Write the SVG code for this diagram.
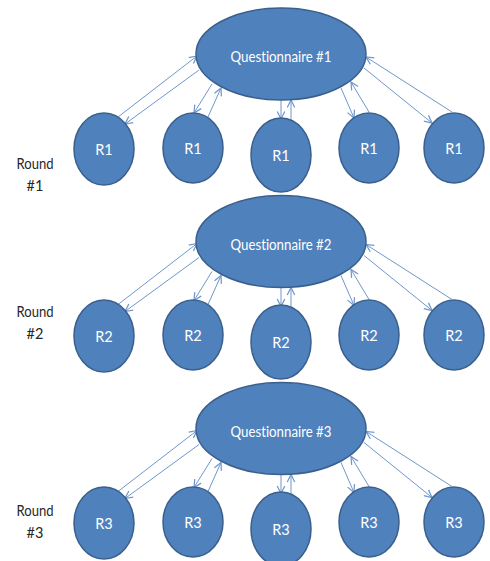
<svg xmlns="http://www.w3.org/2000/svg" width="490" height="561" viewBox="0 0 490 561">
<defs>
<marker id="ah" markerUnits="userSpaceOnUse" markerWidth="10" markerHeight="10" viewBox="0 0 8 8" refX="7" refY="4" orient="auto">
<path d="M1,1 L7,4 L1,7" fill="none" stroke="#6f97cc" stroke-width="1"/>
</marker>
</defs>
<style>
.n{fill:#4f81bd;stroke:#3a5f8c;stroke-width:1.5}
.t{fill:#ffffff;font-family:Lato,"Liberation Sans",sans-serif;font-size:14.5px;text-anchor:middle;font-variant-ligatures:none}
.q{font-size:14.5px}
.l{fill:#262626;font-family:Lato,"Liberation Sans",sans-serif;font-size:14.5px;text-anchor:middle}
.c line{stroke:#6f97cc;stroke-width:1;marker-end:url(#ah)}
</style>
<rect width="490" height="561" fill="#ffffff"/>
<g id="connectors" class="c">
<g id="row1-connectors">
<line x1="118" y1="117" x2="197" y2="56"/>
<line x1="199" y1="70" x2="125" y2="124"/>
<line x1="212" y1="84" x2="194" y2="113"/>
<line x1="208" y1="117" x2="221" y2="88"/>
<line x1="281" y1="100" x2="281" y2="119"/>
<line x1="291" y1="120" x2="291" y2="100"/>
<line x1="341" y1="88" x2="354" y2="118"/>
<line x1="369" y1="112" x2="351" y2="82"/>
<line x1="452" y1="112" x2="366" y2="57"/>
<line x1="364" y1="68" x2="432" y2="123"/>
</g>
<g id="row2-connectors" transform="translate(0,187.5)">
<line x1="118" y1="117" x2="197" y2="56"/>
<line x1="199" y1="70" x2="125" y2="124"/>
<line x1="212" y1="84" x2="194" y2="113"/>
<line x1="208" y1="117" x2="221" y2="88"/>
<line x1="281" y1="100" x2="281" y2="119"/>
<line x1="291" y1="120" x2="291" y2="100"/>
<line x1="341" y1="88" x2="354" y2="118"/>
<line x1="369" y1="112" x2="351" y2="82"/>
<line x1="452" y1="112" x2="366" y2="57"/>
<line x1="364" y1="68" x2="432" y2="123"/>
</g>
<g id="row3-connectors" transform="translate(0,374.5)">
<line x1="118" y1="117" x2="197" y2="56"/>
<line x1="199" y1="70" x2="125" y2="124"/>
<line x1="212" y1="84" x2="194" y2="113"/>
<line x1="208" y1="117" x2="221" y2="88"/>
<line x1="281" y1="100" x2="281" y2="119"/>
<line x1="291" y1="120" x2="291" y2="100"/>
<line x1="341" y1="88" x2="354" y2="118"/>
<line x1="369" y1="112" x2="351" y2="82"/>
<line x1="452" y1="112" x2="366" y2="57"/>
<line x1="364" y1="68" x2="432" y2="123"/>
</g>
</g>

<g id="q1"><ellipse class="n" cx="281" cy="54" rx="85" ry="46"/><text class="t q" x="281" y="62" textLength="101" lengthAdjust="spacingAndGlyphs">Questionnaire #1</text></g>
<g id="r1a"><ellipse class="n" cx="104" cy="149" rx="30" ry="36"/><text class="t" x="104" y="155">R1</text></g>
<g id="r1b"><ellipse class="n" cx="193" cy="148" rx="30" ry="35"/><text class="t" x="193" y="154">R1</text></g>
<g id="r1c"><ellipse class="n" cx="281" cy="155" rx="30" ry="37"/><text class="t" x="281" y="161">R1</text></g>
<g id="r1d"><ellipse class="n" cx="369" cy="148" rx="30" ry="35"/><text class="t" x="369" y="154">R1</text></g>
<g id="r1e"><ellipse class="n" cx="454" cy="148" rx="30" ry="35"/><text class="t" x="454" y="154">R1</text></g>

<g id="q2"><ellipse class="n" cx="281" cy="241.5" rx="85" ry="46"/><text class="t q" x="281" y="249.5" textLength="101" lengthAdjust="spacingAndGlyphs">Questionnaire #2</text></g>
<g id="r2a"><ellipse class="n" cx="104" cy="336" rx="30" ry="36"/><text class="t" x="104" y="342">R2</text></g>
<g id="r2b"><ellipse class="n" cx="193" cy="335" rx="30" ry="35"/><text class="t" x="193" y="341">R2</text></g>
<g id="r2c"><ellipse class="n" cx="281" cy="342" rx="30" ry="37"/><text class="t" x="281" y="348">R2</text></g>
<g id="r2d"><ellipse class="n" cx="369" cy="335" rx="30" ry="35"/><text class="t" x="369" y="341">R2</text></g>
<g id="r2e"><ellipse class="n" cx="454" cy="335" rx="30" ry="35"/><text class="t" x="454" y="341">R2</text></g>

<g id="q3"><ellipse class="n" cx="281" cy="428.5" rx="85" ry="46"/><text class="t q" x="281" y="436.5" textLength="101" lengthAdjust="spacingAndGlyphs">Questionnaire #3</text></g>
<g id="r3a"><ellipse class="n" cx="104" cy="523" rx="30" ry="36"/><text class="t" x="104" y="529">R3</text></g>
<g id="r3b"><ellipse class="n" cx="193" cy="522" rx="30" ry="35"/><text class="t" x="193" y="528">R3</text></g>
<g id="r3c"><ellipse class="n" cx="281" cy="529" rx="30" ry="37"/><text class="t" x="281" y="535">R3</text></g>
<g id="r3d"><ellipse class="n" cx="369" cy="522" rx="30" ry="35"/><text class="t" x="369" y="528">R3</text></g>
<g id="r3e"><ellipse class="n" cx="454" cy="522" rx="30" ry="35"/><text class="t" x="454" y="528">R3</text></g>

<g id="round1"><text class="l" x="35" y="169" textLength="37" lengthAdjust="spacingAndGlyphs">Round</text><text class="l" x="35" y="191">#1</text></g>
<g id="round2"><text class="l" x="35" y="317" textLength="37" lengthAdjust="spacingAndGlyphs">Round</text><text class="l" x="35" y="339">#2</text></g>
<g id="round3"><text class="l" x="35" y="516" textLength="37" lengthAdjust="spacingAndGlyphs">Round</text><text class="l" x="35" y="538">#3</text></g>
</svg>
